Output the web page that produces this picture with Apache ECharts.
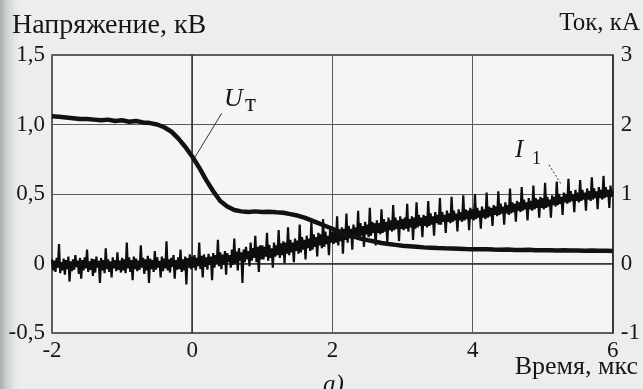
<!DOCTYPE html>
<html><head><meta charset="utf-8">
<script src="https://cdn.jsdelivr.net/npm/echarts@6/dist/echarts.min.js"></script>
<style>html,body{margin:0;padding:0;background:#eceeed}#c{width:643px;height:389px}</style>
</head><body><div id="c"></div>
<script>
// Time axis (мкс)
const xMin = -2, xMax = 6, xInterval = 2;
// Voltage U_T (кВ), sampled every 0.1 мкс from -2
const utStart = -2, utStep = 0.1;
const utValues = [
1.06,1.055,1.05,1.045,1.04,1.04,1.035,1.03,1.035,1.025,
1.03,1.02,1.025,1.015,1.01,1.0,0.98,0.95,0.9,0.84,
0.77,0.69,0.6,0.52,0.45,0.41,0.385,0.375,0.37,0.375,
0.37,0.372,0.368,0.365,0.355,0.345,0.33,0.31,0.29,0.27,
0.25,0.23,0.21,0.195,0.18,0.168,0.158,0.148,0.14,0.134,
0.128,0.124,0.12,0.116,0.114,0.111,0.109,0.108,0.106,0.104,
0.103,0.102,0.103,0.1,0.099,0.1,0.098,0.097,0.099,0.096,
0.095,0.096,0.094,0.095,0.093,0.094,0.092,0.093,0.091,0.092,0.09
];
// Current I_1 (кА), sampled every 1/60 мкс from -2
const i1Start = -2, i1Step = 1/60;
const i1Values = [
0.06,-0.1,0.04,-0.12,0.08,-0.06,0.28,-0.14,0.02,-0.1,0.07,-0.16,0.05,-0.08,0.1,-0.26,0.03,-0.11,0.06,-0.09,
0.12,-0.05,0.04,-0.15,0.08,-0.22,0.05,-0.1,0.09,-0.07,0.2,-0.12,0.03,-0.09,0.07,-0.18,0.06,-0.13,0.1,-0.06,
0.04,-0.28,0.08,-0.1,0.05,-0.14,0.22,-0.08,0.06,-0.12,0.03,-0.2,0.09,-0.07,0.05,-0.11,0.16,-0.09,0.04,-0.13,
0.08,-0.1,0.06,-0.14,0.3,-0.07,0.09,-0.12,0.05,-0.24,0.1,-0.08,0.07,-0.11,0.04,-0.09,0.26,-0.06,0.08,-0.15,
0.06,-0.1,0.11,-0.28,0.07,-0.08,0.05,-0.12,0.18,-0.09,0.09,-0.06,0.04,-0.2,0.1,-0.11,0.07,-0.07,0.32,-0.1,
0.06,-0.13,0.08,-0.05,0.12,-0.22,0.05,-0.09,0.09,-0.08,0.2,-0.12,0.06,-0.1,0.1,-0.3,0.08,-0.06,0.13,-0.08,
0.1,-0.06,0.12,-0.1,0.08,-0.04,0.3,-0.08,0.11,-0.2,0.13,-0.05,0.09,-0.09,0.14,-0.02,0.1,-0.24,0.15,-0.06,
0.12,0.0,0.34,-0.04,0.16,-0.08,0.13,-0.02,0.18,-0.16,0.15,0.02,0.12,-0.06,0.2,-0.02,0.36,0.0,0.17,-0.1,
0.22,0.04,0.16,-0.28,0.2,0.02,0.24,0.06,0.18,-0.04,0.3,0.04,0.22,0.08,0.4,0.02,0.24,-0.12,0.26,0.06,
0.26,0.06,0.24,0.1,0.44,0.04,0.27,0.08,0.22,-0.06,0.3,0.1,0.26,0.12,0.48,0.08,0.29,0.12,0.32,0.0,
0.3,0.14,0.52,0.12,0.34,0.16,0.3,0.02,0.36,0.18,0.33,0.14,0.56,0.16,0.38,0.2,0.34,0.06,0.4,0.22,
0.36,0.18,0.6,0.2,0.42,0.24,0.38,0.1,0.44,0.26,0.42,0.22,0.64,0.24,0.46,0.28,0.4,0.12,0.48,0.3,
0.46,0.28,0.5,0.3,0.68,0.26,0.48,0.32,0.52,0.14,0.5,0.34,0.72,0.3,0.54,0.36,0.5,0.2,0.56,0.38,
0.52,0.36,0.76,0.34,0.58,0.4,0.54,0.24,0.6,0.42,0.56,0.38,0.8,0.4,0.6,0.44,0.58,0.26,0.62,0.44,
0.58,0.42,0.78,0.44,0.64,0.46,0.6,0.3,0.66,0.48,0.62,0.46,0.84,0.48,0.66,0.5,0.62,0.32,0.68,0.5,
0.64,0.48,0.66,0.5,0.86,0.46,0.64,0.52,0.68,0.34,0.66,0.5,0.88,0.52,0.7,0.54,0.66,0.38,0.7,0.54,
0.68,0.52,0.9,0.54,0.72,0.56,0.68,0.4,0.74,0.58,0.7,0.56,0.94,0.56,0.74,0.6,0.7,0.44,0.76,0.6,
0.72,0.58,0.96,0.6,0.76,0.62,0.72,0.46,0.78,0.62,0.74,0.6,0.98,0.62,0.78,0.64,0.76,0.48,0.8,0.64,
0.78,0.62,1.0,0.64,0.8,0.66,0.76,0.5,0.82,0.66,0.78,0.64,1.02,0.66,0.82,0.68,0.8,0.54,0.84,0.7,
0.82,0.68,1.04,0.7,0.86,0.72,0.82,0.56,0.88,0.72,0.84,0.7,1.08,0.72,0.88,0.74,0.86,0.6,0.9,0.76,
0.88,0.74,1.1,0.76,0.92,0.78,0.88,0.62,0.94,0.78,0.9,0.76,1.12,0.78,0.94,0.8,0.92,0.66,0.96,0.8,
0.94,0.78,1.16,0.8,0.96,0.82,0.92,0.66,0.98,0.84,0.96,0.82,1.18,0.84,1.0,0.86,0.96,0.7,1.02,0.88,
1.0,0.86,1.22,0.88,1.04,0.9,1.0,0.74,1.06,0.9,1.02,0.88,1.2,0.9,1.06,0.92,1.02,0.76,1.08,0.92,
1.04,0.9,1.24,0.92,1.08,0.94,1.04,0.78,1.1,0.94,1.06,0.92,1.26,0.94,1.1,0.96,1.06,0.8,1.12,0.96,1.04
];
// Tick labels
const leftTickValues = [-0.5, 0, 0.5, 1, 1.5];
const leftTickLabels = ['-0,5', '0', '0,5', '1,0', '1,5'];
const rightTickValues = [-1, 0, 1, 2, 3];
const rightTickLabels = ['-1', '0', '1', '2', '3'];
const xTickValues = [-2, 0, 2, 4, 6];
const xTickLabels = ['-2', '0', '2', '4', '6'];
// Annotation anchors (data units)
const utLeader = [[0.04, 0.765], [0.42, 1.08]];       // [t, кВ]
const i1Leader = [[5.09, 1.42], [5.27, 1.13]];        // [t, кА]

const FONT = '"Liberation Serif", "Times New Roman", serif';
const INK = '#161616';

const utData = utValues.map((v, i) => [utStart + i * utStep, v]);
const i1Data = i1Values.map((v, i) => [i1Start + i * i1Step, v]);

function lookup(vals, labels) {
  return v => { const k = vals.findIndex(t => Math.abs(t - v) < 1e-9); return k >= 0 ? labels[k] : ''; };
}

const chart = echarts.init(document.getElementById('c'), null, {renderer: 'canvas'});
chart.setOption({
  backgroundColor: '#eceeed',
  animation: false,
  grid: {left: 52, right: 29, top: 55, bottom: 56, show: true, backgroundColor: '#f5f6f4', borderColor: '#333', borderWidth: 1.5},
  xAxis: {
    type: 'value', min: xMin, max: xMax, interval: xInterval,
    axisLine: {show: true, lineStyle: {color: '#333', width: 1.5}},
    axisTick: {show: false},
    axisLabel: {fontFamily: FONT, fontSize: 23, color: INK, margin: 6, formatter: lookup(xTickValues, xTickLabels), showMinLabel: true, showMaxLabel: true},
    splitLine: {show: true, lineStyle: {color: '#5a5a5a', width: 1}}
  },
  yAxis: [
    {
      type: 'value', min: -0.5, max: 1.5, interval: 0.5, position: 'left',
      axisLine: {show: true, lineStyle: {color: '#333', width: 1.5}},
      axisTick: {show: false},
      axisLabel: {fontFamily: FONT, fontSize: 23, color: INK, margin: 7, formatter: lookup(leftTickValues, leftTickLabels)},
      splitLine: {show: true, lineStyle: {color: '#5a5a5a', width: 1}}
    },
    {
      type: 'value', min: -1, max: 3, interval: 1, position: 'right',
      axisLine: {show: true, lineStyle: {color: '#333', width: 1.5}},
      axisTick: {show: false},
      axisLabel: {fontFamily: FONT, fontSize: 23, color: INK, margin: 8, formatter: lookup(rightTickValues, rightTickLabels)},
      splitLine: {show: false}
    }
  ],
  series: [
    {
      name: 'I1', type: 'line', yAxisIndex: 1, data: i1Data, showSymbol: false, symbol: 'none',
      lineStyle: {color: '#0e0e0e', width: 2.2}, z: 3,
      markLine: {silent: true, symbol: 'none', label: {show: false},
        lineStyle: {color: '#333', width: 1, type: [2, 2]},
        data: [[{coord: i1Leader[0]}, {coord: i1Leader[1]}]]}
    },
    {
      name: 'UT', type: 'line', yAxisIndex: 0, data: utData, showSymbol: false, symbol: 'none', smooth: false,
      lineStyle: {color: '#121212', width: 4.5}, z: 4,
      markLine: {silent: true, symbol: 'none', label: {show: false},
        lineStyle: {color: '#333', width: 1, type: 'solid'},
        data: [[{coord: utLeader[0]}, {coord: utLeader[1]}]]}
    }
  ],
  graphic: [
    {type: 'rect', left: 0, top: 0, shape: {width: 22, height: 389}, silent: true, z: -1,
      style: {fill: new echarts.graphic.LinearGradient(0, 0, 1, 0, [{offset: 0, color: 'rgba(150,156,156,0.8)'}, {offset: 1, color: 'rgba(236,238,237,0)'}])}},
    {type: 'text', left: 12, top: 12, style: {text: 'Напряжение, кВ', fontFamily: FONT, fontSize: 28, fill: INK}},
    {type: 'text', right: 3, top: 11, style: {text: 'Ток, кА', fontFamily: FONT, fontSize: 25, fill: INK}},
    {type: 'text', right: 5, top: 354, style: {text: 'Время, мкс', fontFamily: FONT, fontSize: 26, fill: INK}},
    {type: 'text', left: 323, top: 373, style: {text: 'а)', fontFamily: FONT, fontSize: 25, fontStyle: 'italic', fill: INK}},
    {type: 'text', left: 224, top: 86, style: {text: 'U', fontFamily: FONT, fontSize: 26, fontStyle: 'italic', fill: INK}},
    {type: 'text', left: 245, top: 92, style: {text: 'т', fontFamily: FONT, fontSize: 25, fill: INK}},
    {type: 'text', left: 515, top: 138, style: {text: 'I', fontFamily: FONT, fontSize: 25, fontStyle: 'italic', fill: INK}},
    {type: 'text', left: 532, top: 150, style: {text: '1', fontFamily: FONT, fontSize: 18, fill: INK}}
  ]
});
</script>
</body></html>
